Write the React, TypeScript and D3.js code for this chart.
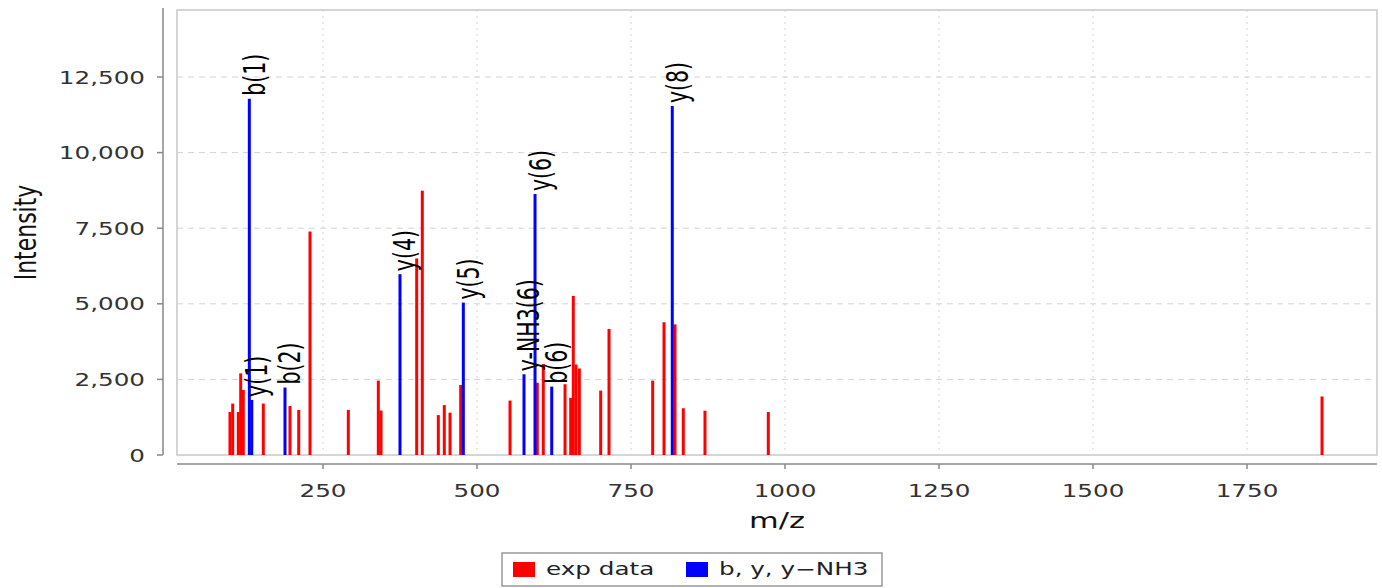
import React from "react";
import * as d3 from "d3";

// experimental peaks (red)
const expMz = [99, 103.4, 112.5, 116.4, 120.6, 153.1, 196.4, 210.6, 228.9, 291.1, 339.8, 344.2, 402.1, 411.2, 437.2, 446.9, 456.2, 473.5, 553.6, 597.9, 607.6, 642.9, 652.1, 656.3, 660.7, 666.1, 700.8, 714.3, 785.2, 803.6, 821.4, 834.9, 870.1, 972.9, 1871.8];
const expIntensity = [1420, 1700, 1420, 2700, 2150, 1700, 1620, 1490, 7390, 1490, 2460, 1470, 6500, 8740, 1320, 1650, 1400, 2315, 1800, 2390, 3010, 2340, 1890, 5260, 2990, 2860, 2130, 4170, 2460, 4390, 4320, 1545, 1465, 1420, 1935];

// annotated ions (blue)
const ionLabels = ["b(1)", "y(1)", "b(2)", "y(4)", "y(5)", "y-NH3(6)", "y(6)", "b(6)", "y(8)"];
const ionMz = [130.4, 134.3, 188.3, 375, 477.8, 576.3, 594.2, 621.3, 817];
const ionIntensity = [11780, 1820, 2230, 5980, 5040, 2670, 8630, 2260, 11540];

const xTicks = [250, 500, 750, 1000, 1250, 1500, 1750];
const yTicks = [0, 2500, 5000, 7500, 10000, 12500];

const legendItems = ["exp data", "b, y, y\u2212NH3"];
const legendColors = ["#ff0000", "#0000ff"];

const FONT = "DejaVu Sans";
const SX = 1.45;

export default function App() {
  const plotL = 177, plotR = 1377, plotT = 10, plotB = 455;
  const x = d3.scaleLinear().domain([250, 500]).range([323, 477]);
  const y = d3.scaleLinear().domain([0, 12500]).range([plotB, 77]);
  const fmtY = d3.format(",");
  const barW = 3;

  return (
    <svg width={1382} height={588} style={{ position: "absolute", left: 0, top: 0, background: "#fff" }} fontFamily={FONT}>
      <rect x={0} y={0} width={1382} height={588} fill="#fff" />
      {/* plot area */}
      <rect x={plotL} y={plotT} width={plotR - plotL} height={plotB - plotT} fill="#fff" stroke="#c8c8c8" strokeWidth={1.5} />
      {/* gridlines */}
      {yTicks.filter(t => t > 0).map(t => (
        <line key={"gy" + t} x1={plotL} x2={plotR} y1={y(t)} y2={y(t)} stroke="#d4d4d4" strokeWidth={1} strokeDasharray="6,5" />
      ))}
      {xTicks.map(t => (
        <line key={"gx" + t} x1={x(t)} x2={x(t)} y1={plotT} y2={plotB} stroke="#d4d4d4" strokeWidth={1} strokeDasharray="2,4" />
      ))}
      {/* bars */}
      {expMz.map((m, i) => (
        <rect key={"e" + i} x={x(m) - barW / 2} y={y(expIntensity[i])} width={barW} height={plotB - y(expIntensity[i])} fill="#ff0000" />
      ))}
      {ionMz.map((m, i) => (
        <rect key={"b" + i} x={x(m) - barW / 2} y={y(ionIntensity[i])} width={barW} height={plotB - y(ionIntensity[i])} fill="#0000ff" />
      ))}
      {/* ion labels */}
      {ionMz.map((m, i) => (
        <text key={"l" + i} transform={`translate(${x(m) + 5},${y(ionIntensity[i]) - 3}) scale(${SX},1) rotate(-90)`}
          fontSize={20.5} dominantBaseline="central" fill="#000">{ionLabels[i]}</text>
      ))}
      {/* y axis */}
      <line x1={163} x2={163} y1={8} y2={plotB} stroke="#888" strokeWidth={1.5} />
      {yTicks.map(t => (
        <g key={"ty" + t}>
          <line x1={157} x2={163} y1={y(t)} y2={y(t)} stroke="#888" strokeWidth={1.5} />
          <text transform={`translate(145,${y(t) + 6.5}) scale(${SX},1)`} textAnchor="end" fontSize={17} fill="#333">{fmtY(t)}</text>
        </g>
      ))}
      <text transform={`translate(25,${(plotT + plotB) / 2}) scale(1.4,1) rotate(-90)`} textAnchor="middle" dominantBaseline="central" fontSize={22} fill="#111">Intensity</text>
      {/* x axis */}
      <line x1={plotL} x2={plotR} y1={464} y2={464} stroke="#888" strokeWidth={1.5} />
      {xTicks.map(t => (
        <g key={"tx" + t}>
          <line x1={x(t)} x2={x(t)} y1={464} y2={469} stroke="#888" strokeWidth={1.5} />
          <text transform={`translate(${x(t)},497) scale(${SX},1)`} textAnchor="middle" fontSize={17} fill="#333">{String(t)}</text>
        </g>
      ))}
      <text transform={`translate(${(plotL + plotR) / 2},528) scale(${SX},1)`} textAnchor="middle" fontSize={21} fill="#111">m/z</text>
      {/* legend */}
      <rect x={502} y={553} width={380} height={33} fill="#fff" stroke="#999" strokeWidth={1.5} />
      {legendItems.map((s, i) => {
        const lx = i === 0 ? 513 : 686;
        return (
          <g key={"lg" + i}>
            <rect x={lx} y={562} width={22} height={15} fill={legendColors[i]} />
            <text transform={`translate(${lx + 33},575) scale(${SX},1)`} fontSize={17} fill="#222">{s}</text>
          </g>
        );
      })}
    </svg>
  );
}
